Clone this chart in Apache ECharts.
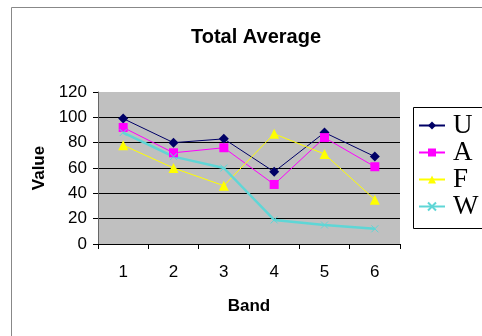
<!DOCTYPE html>
<html>
<head>
<meta charset="utf-8">
<script src="https://cdn.jsdelivr.net/npm/echarts@6/dist/echarts.min.js"></script>
<style>
  html, body { margin: 0; padding: 0; background: #fff; }
  #chart { width: 482px; height: 336px; }
</style>
</head>
<body>
<div id="chart"></div>
<script>
const bands = ['1', '2', '3', '4', '5', '6'];
const seriesU = [99, 80, 83, 57, 88, 69];
const seriesA = [92, 72, 76, 47, 84, 61];
const seriesF = [78, 60, 46, 87, 71, 35];
const seriesW = [88, 69, 60, 19, 15, 12];

const chart = echarts.init(document.getElementById('chart'));

const crossPath = 'path://M0,0L10,10M10,0L0,10';

const option = {
  animation: false,
  backgroundColor: '#fff',
  title: {
    text: 'Total Average',
    left: 251,
    top: 22,
    textAlign: 'center',
    textStyle: { fontFamily: 'Liberation Sans', fontSize: 20, fontWeight: 'bold', color: '#000' }
  },
  graphic: [
    { type: 'rect', shape: { x: 11.5, y: 7.5, width: 600, height: 400 }, style: { fill: 'none', stroke: '#888', lineWidth: 1 }, z: -10 },
    { type: 'rect', shape: { x: 413.5, y: 107.5, width: 100, height: 121 }, style: { fill: '#fff', stroke: '#000', lineWidth: 1 }, z: 0 }
  ],
  legend: {
    orient: 'vertical',
    left: 418,
    top: 112,
    itemWidth: 26,
    itemHeight: 10,
    itemGap: 0,
    padding: 0,
    textStyle: { fontFamily: 'Liberation Serif', fontSize: 27, lineHeight: 27, color: '#000', padding: [0, 0, 0, 3] },
    z: 5
  },
  grid: {
    left: 98,
    right: 82,
    top: 92,
    bottom: 92,
    show: true,
    backgroundColor: '#c0c0c0',
    borderWidth: 0
  },
  xAxis: {
    type: 'category',
    data: bands,
    boundaryGap: true,
    name: 'Band',
    nameLocation: 'middle',
    nameGap: 54,
    nameTextStyle: { fontFamily: 'Liberation Sans', fontSize: 17, fontWeight: 'bold', color: '#000' },
    axisLine: { lineStyle: { color: '#000', width: 1 } },
    axisTick: { show: true, alignWithLabel: false, interval: 0, length: 5, lineStyle: { color: '#000' } },
    axisLabel: { fontFamily: 'Liberation Sans', fontSize: 17, color: '#000', margin: 20 },
    splitLine: { show: false }
  },
  yAxis: {
    type: 'value',
    min: 0,
    max: 120,
    interval: 20,
    name: 'Value',
    nameLocation: 'middle',
    nameGap: 50,
    nameRotate: 90,
    nameTextStyle: { fontFamily: 'Liberation Sans', fontSize: 17, fontWeight: 'bold', color: '#000' },
    axisLine: { show: true, lineStyle: { color: '#666', width: 1 } },
    axisTick: { show: true, length: 5, lineStyle: { color: '#000' } },
    axisLabel: { fontFamily: 'Liberation Sans', fontSize: 17, color: '#000', margin: 11 },
    splitLine: {
      show: true,
      lineStyle: { color: ['#000', '#000', '#000', '#000', '#000', '#000', '#c0c0c0'], width: 1 }
    }
  },
  series: [
    {
      name: 'U', type: 'line', data: seriesU,
      symbol: 'diamond', symbolSize: 10,
      itemStyle: { color: '#000066' },
      lineStyle: { color: '#000066', width: 1 }
    },
    {
      name: 'A', type: 'line', data: seriesA,
      symbol: 'rect', symbolSize: 9,
      itemStyle: { color: '#ff00ff' },
      lineStyle: { color: '#ff00ff', width: 1 }
    },
    {
      name: 'F', type: 'line', data: seriesF,
      symbol: 'triangle', symbolSize: 10,
      itemStyle: { color: '#ffff00' },
      lineStyle: { color: '#ffff00', width: 1 }
    },
    {
      name: 'W', type: 'line', data: seriesW,
      symbol: crossPath, symbolSize: 7,
      itemStyle: { color: '#5fd6d6', borderColor: '#5fd6d6', borderWidth: 1 },
      lineStyle: { color: '#5fd6d6', width: 2.5 }
    }
  ]
};

chart.setOption(option);
</script>
</body>
</html>
